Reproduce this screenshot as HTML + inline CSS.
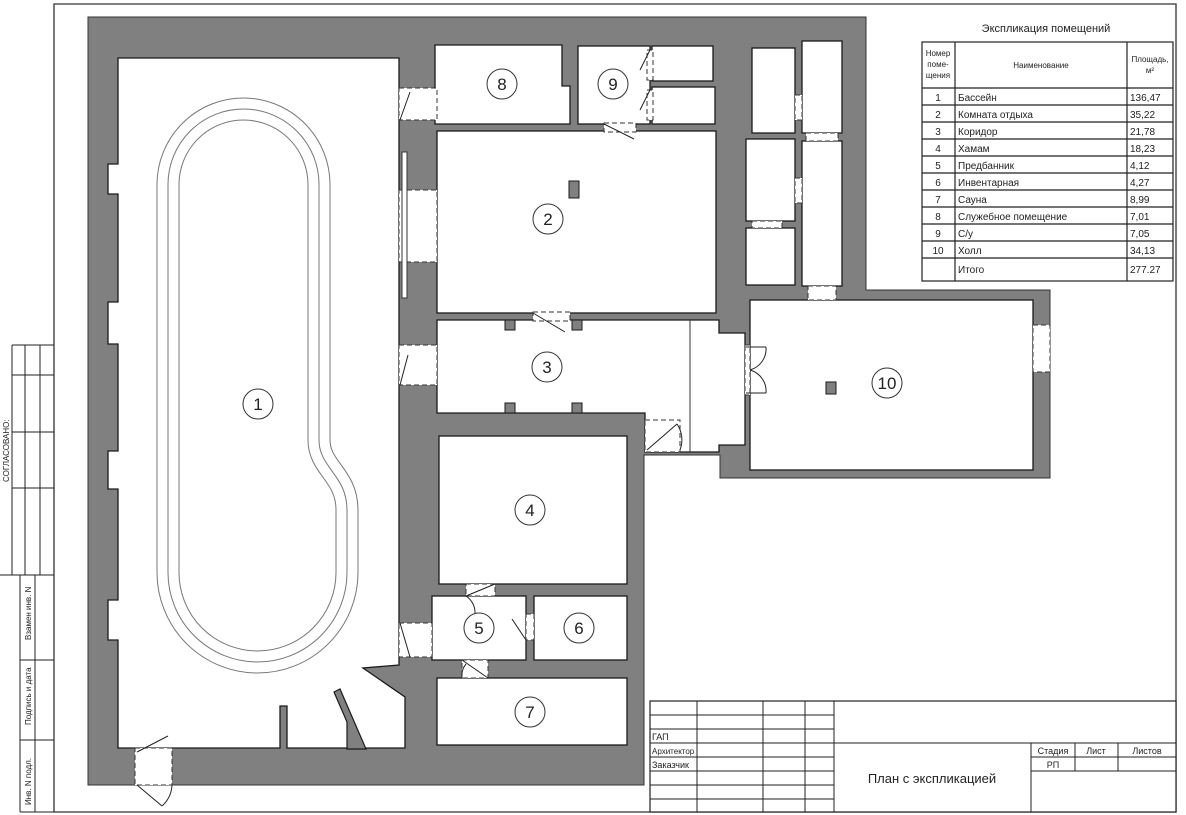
<!DOCTYPE html>
<html><head><meta charset="utf-8"><style>
html,body{margin:0;padding:0;background:#fff}
svg{display:block}
text{font-family:"Liberation Sans","DejaVu Sans",sans-serif;fill:#222}
</style></head><body>
<svg width="1186" height="815" viewBox="0 0 1186 815" xmlns="http://www.w3.org/2000/svg">
<g stroke="#333" stroke-width="1.3" fill="none">
<path d="M54,4 H1176 V812 H54 Z"/>
</g>
<polygon points="88,17 866,17 866,290 1050,290 1050,478 720,478 720,455 644,455 644,785 88,785" fill="#808080" stroke="#333" stroke-width="1"/>
<g fill="#fff" stroke="#1a1a1a" stroke-width="1.3">
<polygon points="118,58 399,58 399,665 363,668 405,697 405,748 287,748 287,706 280,706 280,748 118,748 118,640 108,640 108,600 118,600 118,489 108,489 108,451 118,451 118,344 108,344 108,302 118,302 118,194 108,194 108,164 118,164"/>
<polygon points="435,45 562,45 562,86 570,86 570,124 435,124"/>
<rect x="578" y="46" width="72" height="78"/>
<rect x="652" y="46" width="61" height="35"/>
<rect x="652" y="87" width="63" height="37"/>
<rect x="437" y="131" width="279" height="182"/>
<rect x="752" y="48" width="43" height="85"/>
<rect x="802" y="41" width="40" height="92"/>
<rect x="746" y="139" width="49" height="82"/>
<rect x="802" y="141" width="40" height="145"/>
<rect x="746" y="228" width="49" height="57"/>
<polygon points="437,320 719,320 719,333 745,333 745,445 719,445 719,452 645,452 645,413 437,413"/>
<rect x="750" y="300" width="283" height="170"/>
<rect x="439" y="436" width="188" height="148"/>
<rect x="432" y="596" width="94" height="64"/>
<rect x="534" y="596" width="93" height="64"/>
<rect x="437" y="678" width="190" height="67"/>
</g>
<polygon points="334,692 340,689 366,749 347,749 347,722" fill="#808080" stroke="#1a1a1a" stroke-width="1.2"/>
<g fill="#808080" stroke="#1a1a1a" stroke-width="1">
<rect x="505" y="320" width="10" height="10"/><rect x="572" y="320" width="10" height="10"/>
<rect x="505" y="403" width="10" height="10"/><rect x="572" y="403" width="10" height="10"/>
<rect x="569" y="181" width="10" height="17"/>
<rect x="826" y="382" width="10" height="12"/>
</g>
<g fill="#fff" stroke="#333" stroke-width="1" stroke-dasharray="5,3">
<rect x="399" y="88" width="38" height="32"/>
<rect x="399" y="190" width="38" height="72"/>
<rect x="399" y="345" width="38" height="40"/>
<rect x="399" y="623" width="33" height="34"/>
<rect x="533" y="312" width="37" height="9"/>
<rect x="604" y="123" width="32" height="9"/>
<rect x="647" y="50" width="6" height="30"/>
<rect x="647" y="90" width="6" height="30"/>
<rect x="795" y="95" width="7" height="25"/>
<rect x="795" y="178" width="7" height="25"/>
<rect x="806" y="133" width="32" height="8"/>
<rect x="752" y="221" width="30" height="7"/>
<rect x="808" y="286" width="28" height="14"/>
<rect x="745" y="345" width="5" height="50"/>
<rect x="1033" y="325" width="17" height="47"/>
<rect x="466" y="584" width="29" height="12"/>
<rect x="462" y="660" width="26" height="18"/>
<rect x="526" y="614" width="8" height="26"/>
<rect x="645" y="420" width="35" height="32"/>
<rect x="135" y="748" width="37" height="37"/>
</g>
<rect x="402" y="152" width="5" height="146" fill="#fff" stroke="#333" stroke-width="1"/>
<line x1="690" y1="320" x2="690" y2="452" stroke="#333" stroke-width="1"/>
<g fill="none" stroke="#222" stroke-width="1">
<path d="M533,313 L565,332"/>
<path d="M604,124 L634,139"/>
<path d="M650,50 L640,70 M650,90 L640,110"/>
<path d="M400,120 L410,92"/>
<path d="M400,385 L408,355"/>
<path d="M400,623 L410,657"/>
<path d="M746,347 L766,347 M746,393 L766,393 M766,347 A22,22 0 0 1 750,370 M766,393 A22,22 0 0 0 750,370"/>
<path d="M466,596 L495,584 M466,596 A20,20 0 0 1 475,614"/>
<path d="M462,660 L488,678 M462,678 A18,18 0 0 1 466,664"/>
<path d="M526,640 L512,619"/>
<path d="M647,450 L677,424 M677,424 A28,28 0 0 1 680,450"/>
<path d="M137,752 L168,736 M137,785 L162,806 M172,785 A30,30 0 0 1 162,806"/>
</g>
<g fill="none">
<path d="M168,184.5 A75.5,75.5 0 0 1 319,184.5 L319,440 C319,468 347,475 347,510 L347,572.5 A89.5,89.5 0 0 1 168,572.5 Z" stroke="#777" stroke-width="23"/>
<path d="M168,184.5 A75.5,75.5 0 0 1 319,184.5 L319,440 C319,468 347,475 347,510 L347,572.5 A89.5,89.5 0 0 1 168,572.5 Z" stroke="#fff" stroke-width="21"/>
<path d="M168,184.5 A75.5,75.5 0 0 1 319,184.5 L319,440 C319,468 347,475 347,510 L347,572.5 A89.5,89.5 0 0 1 168,572.5 Z" stroke="#777" stroke-width="1"/>
</g>
<g fill="#fff" stroke="#333" stroke-width="1">
<circle cx="258" cy="404" r="15"/><circle cx="548" cy="219" r="15"/><circle cx="547" cy="367" r="15"/>
<circle cx="530" cy="510" r="15"/><circle cx="479" cy="628" r="15"/><circle cx="579" cy="628" r="15"/>
<circle cx="530" cy="712" r="15"/><circle cx="502" cy="84" r="15"/><circle cx="613" cy="84" r="15"/>
<circle cx="887" cy="383" r="15"/>
</g>
<g font-size="17" text-anchor="middle">
<text x="258" y="410">1</text><text x="548" y="225">2</text><text x="547" y="373">3</text>
<text x="530" y="516">4</text><text x="479" y="634">5</text><text x="579" y="634">6</text>
<text x="530" y="718">7</text><text x="502" y="90">8</text><text x="613" y="90">9</text>
<text x="887" y="389">10</text>
</g>
<text x="1046" y="32" font-size="11" text-anchor="middle">Экспликация помещений</text>
<g stroke="#222" stroke-width="1.2" fill="none">
<rect x="922" y="42" width="251" height="239"/>
<path d="M955,42V281 M1127,42V281 M922,88H1173 M922,105H1173 M922,122H1173 M922,139H1173 M922,156H1173 M922,173H1173 M922,190H1173 M922,207H1173 M922,224H1173 M922,241H1173 M922,258H1173"/>
</g>
<g font-size="8" text-anchor="middle">
<text x="938" y="56">Номер</text><text x="938" y="67">поме-</text><text x="938" y="78">щения</text>
<text x="1041" y="68">Наименование</text>
<text x="1150" y="62">Площадь,</text><text x="1150" y="73">м²</text>
</g>
<g font-size="10">
<g text-anchor="middle">
<text x="938" y="101">1</text><text x="938" y="118">2</text><text x="938" y="135">3</text><text x="938" y="152">4</text>
<text x="938" y="169">5</text><text x="938" y="186">6</text><text x="938" y="203">7</text><text x="938" y="220">8</text>
<text x="938" y="237">9</text><text x="938" y="254">10</text></g>
<text x="958" y="101">Бассейн</text><text x="958" y="118">Комната отдыха</text><text x="958" y="135">Коридор</text>
<text x="958" y="152">Хамам</text><text x="958" y="169">Предбанник</text><text x="958" y="186">Инвентарная</text>
<text x="958" y="203">Сауна</text><text x="958" y="220">Служебное помещение</text><text x="958" y="237">С/у</text>
<text x="958" y="254">Холл</text><text x="958" y="273">Итого</text>
<text x="1130" y="101">136,47</text><text x="1130" y="118">35,22</text><text x="1130" y="135">21,78</text>
<text x="1130" y="152">18,23</text><text x="1130" y="169">4,12</text><text x="1130" y="186">4,27</text>
<text x="1130" y="203">8,99</text><text x="1130" y="220">7,01</text><text x="1130" y="237">7,05</text>
<text x="1130" y="254">34,13</text><text x="1130" y="273">277.27</text>
</g>
<g stroke="#222" stroke-width="1.2" fill="#fff">
<rect x="650" y="701" width="526" height="111"/>
</g>
<g stroke="#222" stroke-width="1" fill="none">
<path d="M650,715H834 M650,729H834 M650,743H1176 M650,757H834 M650,771H834 M650,785H834 M650,799H834"/>
<path d="M697,701V812 M763,701V812 M805,701V812 M834,701V812"/>
<path d="M1031,743V812 M1031,757H1176 M1031,771H1176 M1075,743V771 M1118,743V771"/>
</g>
<g font-size="9">
<text x="652" y="740">ГАП</text><text x="652" y="754" font-size="8">Архитектор</text><text x="652" y="768">Заказчик</text>
<g text-anchor="middle"><text x="1053" y="754">Стадия</text><text x="1096" y="754">Лист</text><text x="1147" y="754">Листов</text><text x="1053" y="768">РП</text></g>
</g>
<text x="932" y="783" font-size="13" text-anchor="middle">План с экспликацией</text>
<g stroke="#222" stroke-width="1" fill="none">
<path d="M12,345H54 M12,345V575 M25,345V575 M40,345V575 M12,375H54 M12,432H54 M12,488H54 M0,575H54"/>
<path d="M20,575V812 M35,575V812 M20,660H54 M20,740H54 M20,812H54"/>
</g>
<g font-size="8">
<text transform="translate(9,482) rotate(-90)">СОГЛАСОВАНО:</text>
<text transform="translate(31,640) rotate(-90)">Взамен инв. N</text>
<text transform="translate(31,725) rotate(-90)">Подпись и дата</text>
<text transform="translate(31,805) rotate(-90)">Инв. N подл.</text>
</g>
</svg>
</body></html>
